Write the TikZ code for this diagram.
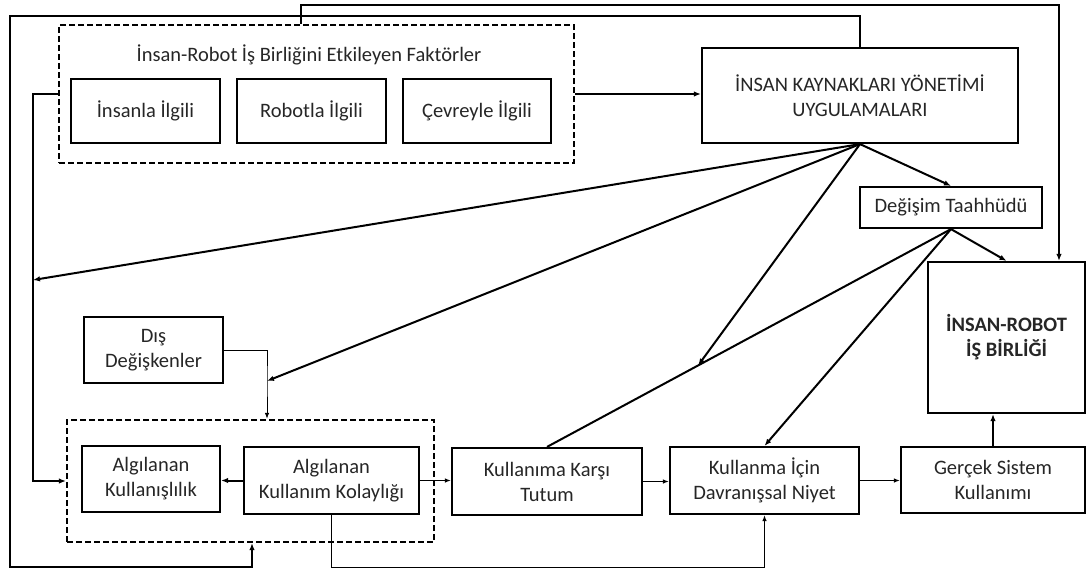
\documentclass[tikz,border=0pt]{standalone}
\usepackage{fontspec}
\setmainfont{Carlito}
\usetikzlibrary{arrows.meta,calc}

\begin{document}
\begin{tikzpicture}[x=1pt, y=-1pt,
		box/.style={draw, line width=2.2pt, inner sep=0pt, align=center},
		grp/.style={draw, line width=2.2pt, dash pattern=on 6pt off 3pt, inner sep=0pt},
		lnk/.style={line width=2pt, -{Latex[length=7pt,width=5.5pt]}},
		lnkthin/.style={line width=1pt, -{Latex[length=6pt,width=4.5pt]}}]
		\useasboundingbox (0,0) rectangle (1087,571);
		\tikzstyle{every node}=[font=\fontsize{20.5}{25}\selectfont, text=black!85]

		% factors and HRM practices
		\node[grp, minimum width=515, minimum height=138] (fac) at (316.5,94) {};
		\node (factitle) at (309,55) {İnsan-Robot İş Birliğini Etkileyen Faktörler};
		\node[box, minimum width=149, minimum height=64] (insan) at (145.5,111) {İnsanla İlgili};
		\node[box, minimum width=149, minimum height=64] (robot) at (311.5,111) {Robotla İlgili};
		\node[box, minimum width=148, minimum height=64] (cevre) at (477,111) {Çevreyle İlgili};
		\node[box, minimum width=316, minimum height=95] (iky) at (860,95.5) {İNSAN KAYNAKLARI YÖNETİMİ\\UYGULAMALARI};
		\node[box, minimum width=182, minimum height=41] (degisim) at (951,207.5) {Değişim Taahhüdü};
		\node[box, minimum width=157, minimum height=151] (irb) at (1006.5,337.5) {\textbf{İNSAN-ROBOT}\\\textbf{İŞ BİRLİĞİ}};

		% acceptance model
		\node[box, minimum width=139, minimum height=66] (dis) at (153.5,350) {Dış\\Değişkenler};
		\node[grp, minimum width=367, minimum height=122] (algi) at (250.5,481) {};
		\node[box, minimum width=138, minimum height=66] (ak) at (151,479) {Algılanan\\Kullanışlılık};
		\node[box, minimum width=175, minimum height=67] (akk) at (331.5,480.5) {Algılanan\\Kullanım Kolaylığı};
		\node[box, minimum width=190, minimum height=67] (kkt) at (547,481.5) {Kullanıma Karşı\\Tutum};
		\node[box, minimum width=189, minimum height=67] (kidn) at (764.5,480.5) {Kullanma İçin\\Davranışsal Niyet};
		\node[box, minimum width=184, minimum height=66] (gsk) at (993,480) {Gerçek Sistem\\Kullanımı};

		\coordinate (outerL) at (10,16);
		\coordinate (outerB) at (252,567);
		\coordinate (innerL) at (33,94);
		\coordinate (innerJ) at (33,280);
		\coordinate (disJ) at (267,381);
		\coordinate (topL) at (301,5);
		\coordinate (topR) at (1059,5);
		\coordinate (modJ) at ($(degisim.south)!0.626!(kkt.north)$);

		\draw[lnk] (fac.east) to (fac.east -| iky.west);
		\draw[lnk] (iky.north) |- (outerL) |- (outerB) to (outerB |- algi.south);
		\draw[lnk] (fac.north -| topL) to (topL) to (topR) to (topR |- irb.north);
		\draw[lnk] (fac.west) to (innerL) |- (algi.west);
		\draw[lnkthin] (dis.east) -| (disJ) to (disJ |- algi.north);

		\draw[lnk] (iky.south) to (degisim.north);
		\draw[lnk] (iky.south) to (innerJ);
		\draw[lnk] (iky.south) to (disJ);
		\draw[lnk] (iky.south) to (modJ);
		\draw[lnk] (degisim.south) to (irb.north);
		\draw[lnk] (degisim.south) to (kidn.north);
		\draw[lnk, -] (degisim.south) to (kkt.north);

		\draw[lnk] (akk.west) to (akk.west -| ak.east);
		\draw[lnkthin] (akk.east) to (akk.east -| kkt.west);
		\draw[lnkthin] (kkt.east) to (kkt.east -| kidn.west);
		\draw[lnkthin] (kidn.east) to (kidn.east -| gsk.west);
		\draw[lnk] (gsk.north) to (gsk.north |- irb.south);
		\draw[lnkthin] (akk.south) |- (kidn.south |- outerB) to (kidn.south);
\end{tikzpicture}
\end{document}
